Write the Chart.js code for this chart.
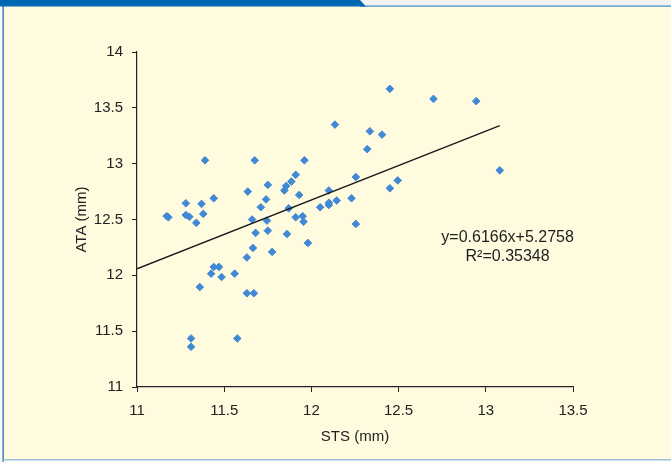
<!DOCTYPE html>
<html>
<head>
<meta charset="utf-8">
<script src="https://cdn.jsdelivr.net/npm/chart.js@4"></script>
<style>
  html, body { margin: 0; padding: 0; background: #ffffff; }
  #wrap { width: 671px; height: 462px; }
</style>
</head>
<body>
<div id="wrap"><canvas id="c" width="671" height="462"></canvas></div>
<script>
// ---- Data ----
const stsValues = [
  11.17, 11.18, 11.28, 11.28, 11.30, 11.34, 11.37, 11.38, 11.39, 11.44,
  11.635, 11.675, 11.74, 11.75, 11.71, 11.66, 11.745, 11.68, 11.75, 11.96,
  11.91, 11.885, 11.855, 11.845, 11.93, 11.87, 11.91, 11.95, 11.955, 11.86,
  11.98, 12.05, 12.10, 12.10, 12.10, 12.145, 12.23, 12.255, 12.255, 12.135,
  12.32, 12.335, 12.405, 12.45, 12.45, 12.495, 12.70, 12.945, 13.08, 11.665,
  11.775, 11.63, 11.44, 11.47, 11.425, 11.485, 11.56, 11.36, 11.63, 11.67,
  11.31, 11.31, 11.575
];
const ataValues = [
  12.53, 12.52, 12.645, 12.54, 12.525, 12.47, 12.64, 12.55, 13.03, 12.69,
  12.75, 13.03, 12.68, 12.81, 12.61, 12.50, 12.49, 12.38, 12.40, 13.03,
  12.90, 12.84, 12.80, 12.76, 12.72, 12.60, 12.52, 12.53, 12.48, 12.37,
  12.29, 12.61, 12.65, 12.63, 12.76, 12.67, 12.69, 12.88, 12.46, 13.35,
  13.13, 13.29, 13.26, 13.67, 12.78, 12.85, 13.58, 13.56, 12.94, 12.245,
  12.21, 12.16, 12.075, 12.075, 12.015, 11.985, 12.015, 11.895, 11.84, 11.84,
  11.435, 11.36, 11.435
];
const xTickValues = [11, 11.5, 12, 12.5, 13, 13.5];
const yTickValues = [11, 11.5, 12, 12.5, 13, 13.5, 14];
const trendSlope = 0.6166;
const trendIntercept = 5.2758;
const rSquared = 0.35348;
const xTitle = 'STS (mm)';
const yTitle = 'ATA (mm)';

// ---- Derived tables ----
const scatterPoints = stsValues.map((x, i) => ({ x: x, y: ataValues[i] }));
const trendStart = xTickValues[0];
const trendEnd = Math.max(...stsValues);
const trendPoints = [trendStart, trendEnd].map(x => ({ x: x, y: trendSlope * x + trendIntercept }));
const eqLine1 = 'y=' + trendSlope.toFixed(4) + 'x+' + trendIntercept.toFixed(4);
const eqLine2 = 'R\u00B2=' + rSquared;

const FONT = '"Liberation Sans", Arial, Helvetica, sans-serif';

const framePlugin = {
  id: 'frame',
  beforeDraw(chart) {
    const ctx = chart.ctx;
    const W = chart.width, H = chart.height;
    ctx.save();
    ctx.fillStyle = '#fcfcf6';
    ctx.fillRect(0, 0, W, H);
    // cream panel
    ctx.fillStyle = '#fffbdf';
    ctx.fillRect(3, 6, W - 3, 453);
    // top right grey strip
    ctx.fillStyle = '#f2f2f2';
    ctx.fillRect(360, 0, W - 360, 6);
    // thin blue line under the strip
    ctx.fillStyle = '#3d8ad0';
    ctx.fillRect(360, 5.5, W - 360, 1.2);
    // blue top bar with slanted end
    ctx.fillStyle = '#0067b4';
    ctx.beginPath();
    ctx.moveTo(0, 0);
    ctx.lineTo(360, 0);
    ctx.lineTo(366, 6.5);
    ctx.lineTo(0, 6.5);
    ctx.closePath();
    ctx.fill();
    // left blue border
    ctx.fillStyle = '#1f6fbd';
    ctx.fillRect(2.5, 6, 1.3, H - 6);
    // bottom light-blue border
    ctx.fillStyle = '#9cc4e2';
    ctx.fillRect(3, 459, W - 3, 1.5);
    ctx.restore();
  },
  afterDatasetsDraw(chart) {
    const ctx = chart.ctx;
    const xs = chart.scales.x, ys = chart.scales.y;
    const cx = xs.getPixelForValue(13.125);
    const y1 = ys.getPixelForValue(12.335);
    const y2 = ys.getPixelForValue(12.165);
    ctx.save();
    ctx.fillStyle = '#1e1e1e';
    ctx.font = '16px ' + FONT;
    ctx.textAlign = 'center';
    ctx.textBaseline = 'middle';
    ctx.fillText(eqLine1, cx, y1);
    ctx.fillText(eqLine2, cx, y2);
    ctx.restore();
  }
};

new Chart(document.getElementById('c'), {
  type: 'scatter',
  data: {
    datasets: [
      {
        label: 'ATA',
        data: scatterPoints,
        pointStyle: 'rectRot',
        pointRadius: 3.8,
        pointHoverRadius: 3.8,
        backgroundColor: '#4189d5',
        borderColor: '#4189d5',
        borderWidth: 1,
        order: 2
      },
      {
        type: 'line',
        label: 'trend',
        data: trendPoints,
        borderColor: '#1a1a1a',
        borderWidth: 1.3,
        pointRadius: 0,
        fill: false,
        order: 1
      }
    ]
  },
  options: {
    responsive: false,
    devicePixelRatio: 1,
    animation: false,
    events: [],
    layout: { padding: { top: 52, right: 98, bottom: 0, left: 0 } },
    plugins: {
      legend: { display: false },
      tooltip: { enabled: false },
      title: { display: false }
    },
    scales: {
      x: {
        type: 'linear',
        min: xTickValues[0],
        max: xTickValues[xTickValues.length - 1],
        afterBuildTicks(scale) { scale.ticks = xTickValues.map(v => ({ value: v })); },
        afterFit(scale) { scale.height = 75; },
        ticks: {
          callback: v => String(v),
          color: '#222',
          font: { family: FONT, size: 15 },
          padding: 10,
          maxRotation: 0
        },
        grid: { drawOnChartArea: false, drawTicks: true, tickLength: 5, color: '#222', lineWidth: 1 },
        border: { display: true, color: '#222', width: 1.2 },
        title: {
          display: true,
          text: xTitle,
          color: '#222',
          font: { family: FONT, size: 15 },
          padding: { top: 0, bottom: 16 }
        }
      },
      y: {
        type: 'linear',
        min: yTickValues[0],
        max: yTickValues[yTickValues.length - 1],
        afterBuildTicks(scale) { scale.ticks = yTickValues.map(v => ({ value: v })); },
        afterFit(scale) { scale.width = 137; },
        ticks: {
          callback: v => String(v),
          color: '#222',
          font: { family: FONT, size: 15 },
          padding: 9
        },
        grid: { drawOnChartArea: false, drawTicks: true, tickLength: 5, color: '#222', lineWidth: 1 },
        border: { display: true, color: '#222', width: 1.2 },
        title: {
          display: true,
          text: yTitle,
          color: '#222',
          font: { family: FONT, size: 15 },
          padding: { top: 73, bottom: 0 }
        }
      }
    }
  },
  plugins: [framePlugin]
});
</script>
</body>
</html>
